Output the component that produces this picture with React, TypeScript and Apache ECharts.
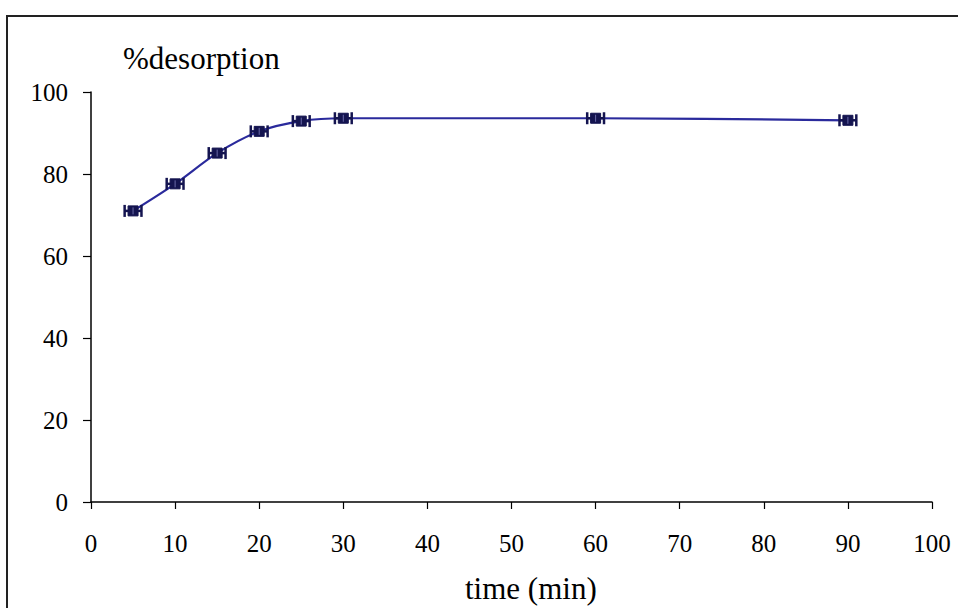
import React, { useEffect, useRef } from "react";
import * as echarts from "echarts";

const times: number[] = [5, 10, 15, 20, 25, 30, 60, 90];
const desorption: number[] = [71.0, 77.6, 85.1, 90.4, 92.9, 93.6, 93.6, 93.1];
const timeError: number[] = [1.0, 1.0, 1.0, 1.0, 1.0, 1.0, 1.0, 1.0];
const xTicks = { min: 0, max: 100, interval: 10 };
const yTicks = { min: 0, max: 100, interval: 20 };

const FONT = "Liberation Serif";
const LINE_COLOR = "#2a2a9c";
const MARK_COLOR = "#141450";

export default function App() {
  const ref = useRef<HTMLDivElement>(null);
  useEffect(() => {
    document.body.style.margin = "0";
    if (!ref.current) return;
    const chart = echarts.init(ref.current, null, { renderer: "svg" });
    const lineData = times.map((t, i) => [t, desorption[i]]);
    const errData = times.map((t, i) => [t, desorption[i], timeError[i]]);
    chart.setOption({
      animation: false,
      backgroundColor: "#ffffff",
      grid: { left: 91, right: 26, top: 92, bottom: 106 },
      xAxis: {
        type: "value",
        min: xTicks.min,
        max: xTicks.max,
        interval: xTicks.interval,
        axisLine: { show: true, onZero: false, lineStyle: { color: "#000", width: 1.5 } },
        axisTick: { show: true, inside: false, length: 7, lineStyle: { color: "#000", width: 1.2 } },
        axisLabel: { margin: 29, color: "#000", fontFamily: FONT, fontSize: 25 },
        splitLine: { show: false },
      },
      yAxis: {
        type: "value",
        min: yTicks.min,
        max: yTicks.max,
        interval: yTicks.interval,
        axisLine: { show: true, onZero: false, lineStyle: { color: "#000", width: 1.5 } },
        axisTick: { show: true, inside: false, length: 8, lineStyle: { color: "#000", width: 1.2 } },
        axisLabel: { margin: 23, color: "#000", fontFamily: FONT, fontSize: 25 },
        splitLine: { show: false },
      },
      graphic: [
        {
          type: "rect",
          shape: { x: 7, y: 16, width: 1000, height: 700 },
          style: { fill: "none", stroke: "#222", lineWidth: 2 },
          silent: true,
          z: 100,
        },
        {
          type: "text",
          left: 123,
          top: 43,
          style: { text: "%desorption", fontFamily: FONT, fontSize: 31, fill: "#000" },
        },
        {
          type: "text",
          left: 465,
          top: 573,
          style: { text: "time (min)", fontFamily: FONT, fontSize: 31, fill: "#000" },
        },
      ],
      series: [
        {
          type: "line",
          data: lineData,
          smooth: 0.3,
          showSymbol: false,
          lineStyle: { color: LINE_COLOR, width: 2.2 },
          z: 2,
        },
        {
          type: "custom",
          data: errData,
          z: 3,
          renderItem: (params: any, api: any) => {
            const x = api.value(0);
            const y = api.value(1);
            const e = api.value(2);
            const c = api.coord([x, y]);
            const l = api.coord([x - e, y]);
            const r = api.coord([x + e, y]);
            const capH = 6;
            const s = 10;
            const st = { stroke: MARK_COLOR, lineWidth: 2.5 };
            return {
              type: "group",
              children: [
                { type: "line", shape: { x1: l[0], y1: c[1], x2: r[0], y2: c[1] }, style: st },
                { type: "line", shape: { x1: l[0], y1: c[1] - capH, x2: l[0], y2: c[1] + capH }, style: st },
                { type: "line", shape: { x1: r[0], y1: c[1] - capH, x2: r[0], y2: c[1] + capH }, style: st },
                {
                  type: "rect",
                  shape: { x: c[0] - s / 2, y: c[1] - s / 2, width: s, height: s },
                  style: { fill: MARK_COLOR, stroke: MARK_COLOR, lineWidth: 1 },
                },
                {
                  type: "line",
                  shape: { x1: c[0], y1: c[1] - s / 2 + 1.5, x2: c[0], y2: c[1] + s / 2 - 1.5 },
                  style: { stroke: "#6a6aa8", lineWidth: 1 },
                },
              ],
            };
          },
        },
      ],
    });
    return () => chart.dispose();
  }, []);
  return <div ref={ref} style={{ width: 958, height: 608 }} />;
}
